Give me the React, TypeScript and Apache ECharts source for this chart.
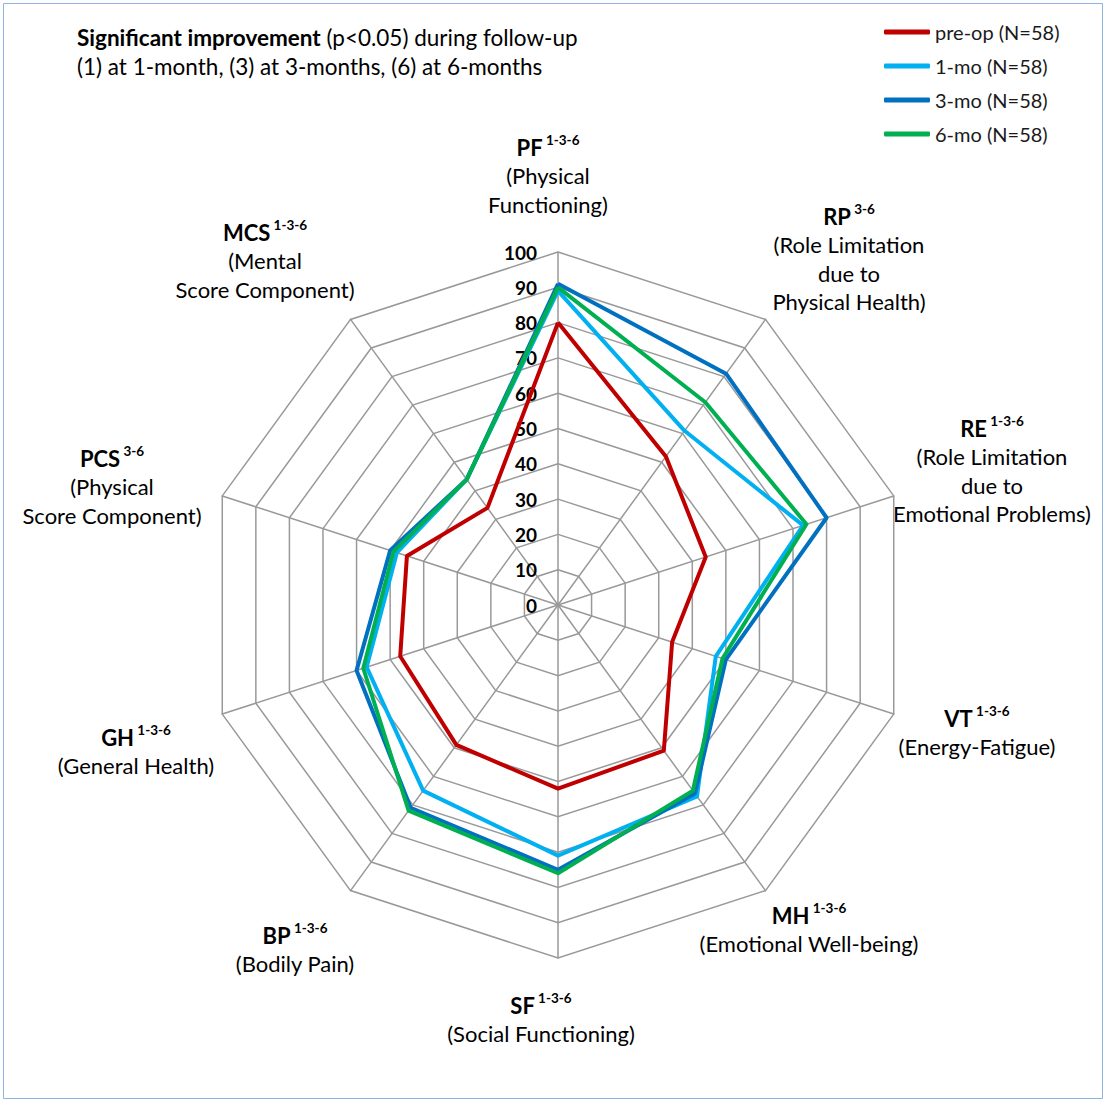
import React, { useEffect, useRef } from 'react';
import * as echarts from 'echarts';

// SF-36 domains in clockwise order starting from the top
const dimensions = ['PF', 'RP', 'RE', 'VT', 'MH', 'SF', 'BP', 'GH', 'PCS', 'MCS'];
const significance = ['1-3-6', '3-6', '1-3-6', '1-3-6', '1-3-6', '1-3-6', '1-3-6', '1-3-6', '3-6', '1-3-6'];
const descriptions = [
  ['(Physical', 'Functioning)'],
  ['(Role Limitation', 'due to', 'Physical Health)'],
  ['(Role Limitation', 'due to', 'Emotional Problems)'],
  ['(Energy-Fatigue)'],
  ['(Emotional Well-being)'],
  ['(Social Functioning)'],
  ['(Bodily Pain)'],
  ['(General Health)'],
  ['(Physical', 'Score Component)'],
  ['(Mental', 'Score Component)'],
];

// Mean scores per domain (same order as dimensions)
const preOp = [80, 52, 44, 34, 51, 52, 49, 47, 45, 34];
const oneMonth = [89, 61, 73, 47, 67, 71, 65, 57, 48, 44];
const threeMonth = [91, 81, 80, 50, 66, 75, 71, 60, 50, 44];
const sixMonth = [90, 71, 74, 49, 65, 76, 72, 58, 49, 44];

const seriesNames = ['pre-op (N=58)', '1-mo (N=58)', '3-mo (N=58)', '6-mo (N=58)'];
const seriesColors = ['#C00000', '#00B0F0', '#0070C0', '#00B050'];

const scaleMin = 0;
const scaleMax = 100;
const scaleSteps = 10;

const FONT = 'Lato, "Open Sans", sans-serif';

// Where each domain caption block is centred (x) and where its first line starts (y)
const captionAnchors: [number, number][] = [
  [548, 133],
  [849, 202],
  [992, 414],
  [977, 704],
  [809, 901],
  [541, 991],
  [295, 921],
  [136, 723],
  [112, 444],
  [265, 218],
];

// ECharts lays indicators out counter-clockwise, so walk the list backwards after the first one
const radarOrder = [0, ...dimensions.map((_, i) => i).slice(1).reverse()];
const reorder = (arr: number[]) => radarOrder.map((i) => arr[i]);

function buildOption() {
  const allSeries = [preOp, oneMonth, threeMonth, sixMonth];

  const captions = dimensions.map((dim, i) => {
    const [cx, top] = captionAnchors[i];
    const text =
      `{b|${dim}}{s| ${significance[i]}}\n` + descriptions[i].map((d) => `{d|${d}}`).join('\n');
    return {
      type: 'text',
      x: cx,
      y: top,
      silent: true,
      style: {
        text,
        align: 'center',
        verticalAlign: 'top',
        fill: '#000',
        fontFamily: FONT,
        rich: {
          b: { fontSize: 22, fontWeight: 'bold', fontFamily: FONT, lineHeight: 28.5, align: 'center', fill: '#000' },
          s: { fontSize: 13.5, fontWeight: 'bold', fontFamily: FONT, lineHeight: 18, verticalAlign: 'top', align: 'center', fill: '#000' },
          d: { fontSize: 22, fontFamily: FONT, lineHeight: 28.5, align: 'center', fill: '#000' },
        },
      },
    };
  });

  return {
    animation: false,
    backgroundColor: '#ffffff',
    color: seriesColors,
    legend: {
      orient: 'vertical',
      left: 879,
      top: 17,
      icon: 'roundRect',
      itemWidth: 46,
      itemHeight: 5,
      itemGap: 14,
      data: seriesNames,
      textStyle: { fontSize: 20, fontFamily: FONT, color: '#1a1a1a' },
    },
    radar: {
      center: [558, 605],
      radius: 353,
      shape: 'polygon',
      splitNumber: scaleSteps,
      axisName: { show: false },
      axisLine: { lineStyle: { color: '#999999', width: 1.5 } },
      splitLine: { lineStyle: { color: '#999999', width: 1.5 } },
      splitArea: { show: false },
      axisTick: { show: false },
      axisLabel: {
        show: false,
        fontSize: 19,
        fontWeight: 'bold',
        fontFamily: FONT,
        color: '#000',
        margin: 21,
      },
      indicator: radarOrder.map((i, k) => ({
        name: dimensions[i],
        min: scaleMin,
        max: scaleMax,
        axisLabel: { show: k === 0 },
      })),
    },
    series: [
      {
        type: 'radar',
        symbol: 'none',
        data: allSeries.map((values, s) => ({
          name: seriesNames[s],
          value: reorder(values),
          lineStyle: { color: seriesColors[s], width: 4 },
          itemStyle: { color: seriesColors[s] },
        })),
      },
    ],
    graphic: [
      {
        type: 'rect',
        silent: true,
        shape: { x: 3.5, y: 3.5, width: 1099, height: 1095 },
        style: { fill: 'none', stroke: '#8db3e2', lineWidth: 1 },
      },
      {
        type: 'text',
        x: 77,
        y: 23,
        silent: true,
        style: {
          text:
            '{b|Significant improvement}{r| (p<0.05) during follow-up}\n{r|(1) at 1-month, (3) at 3-months, (6) at 6-months}',
          align: 'left',
          verticalAlign: 'top',
          fontFamily: FONT,
          rich: {
            b: { fontSize: 22.5, fontWeight: 'bold', fontFamily: FONT, lineHeight: 29, fill: '#000' },
            r: { fontSize: 22.5, fontFamily: FONT, lineHeight: 29, fill: '#000' },
          },
        },
      },
      ...captions,
    ],
  };
}

export default function App() {
  const ref = useRef<HTMLDivElement>(null);
  useEffect(() => {
    const chart = echarts.init(ref.current!, null, { renderer: 'svg' });
    chart.setOption(buildOption() as any);
    return () => chart.dispose();
  }, []);
  return (
    <div
      ref={ref}
      style={{ position: 'absolute', left: 0, top: 0, width: 1107, height: 1111, background: '#fff' }}
    />
  );
}
